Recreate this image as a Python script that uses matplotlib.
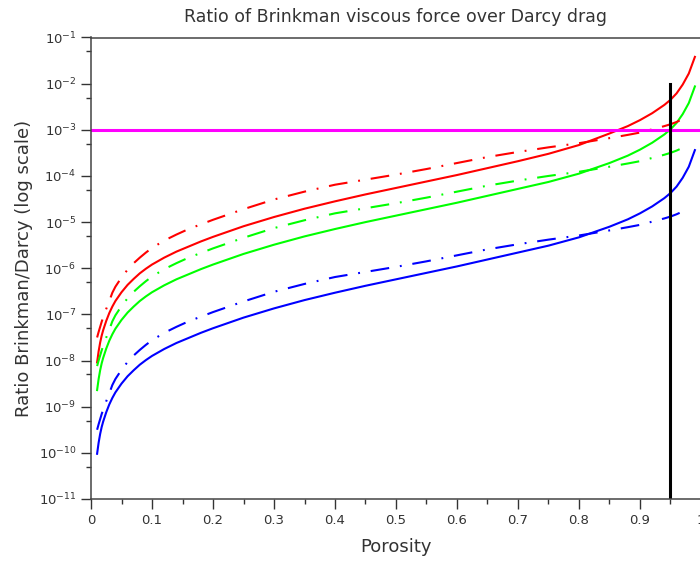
import numpy as np
import matplotlib
matplotlib.use('Agg')
import matplotlib.pyplot as plt
from matplotlib.ticker import LogLocator, MultipleLocator, FormatStrFormatter

# porosity grids (solid curves run to 0.99, dash-dot curves to 0.98)
phi_solid = [0.01, 0.0125, 0.015, 0.0175, 0.02, 0.025, 0.03, 0.035, 0.04,
             0.05, 0.06, 0.07, 0.08, 0.09, 0.1, 0.12, 0.14, 0.16, 0.18, 0.2,
             0.25, 0.3, 0.35, 0.4, 0.45, 0.5, 0.55, 0.6, 0.65, 0.7, 0.75, 0.8,
             0.85, 0.88, 0.9, 0.92, 0.94, 0.95, 0.96, 0.97, 0.98, 0.99]
phi_dash = phi_solid[:-1]

# log10 of the ratio
red_solid = [-8.04, -7.80, -7.61, -7.46, -7.34, -7.14, -6.97, -6.83, -6.71,
             -6.52, -6.36, -6.23, -6.11, -6.01, -5.92, -5.77, -5.64, -5.53, -5.42, -5.32,
             -5.09, -4.89, -4.71, -4.55, -4.40, -4.26, -4.12, -3.98, -3.83, -3.68, -3.52, -3.33,
             -3.08, -2.92, -2.79, -2.64, -2.46, -2.35, -2.21, -2.02, -1.78, -1.42]
green_solid = [-8.64, -8.40, -8.21, -8.06, -7.94, -7.74, -7.57, -7.43, -7.31,
               -7.12, -6.96, -6.83, -6.71, -6.61, -6.52, -6.37, -6.24, -6.13, -6.02, -5.92,
               -5.69, -5.49, -5.31, -5.15, -5.00, -4.86, -4.72, -4.58, -4.43, -4.28, -4.13, -3.95,
               -3.72, -3.56, -3.43, -3.28, -3.10, -2.99, -2.85, -2.66, -2.42, -2.06]
blue_solid = [-10.02, -9.78, -9.59, -9.44, -9.32, -9.12, -8.95, -8.81, -8.69,
              -8.50, -8.34, -8.21, -8.09, -7.99, -7.90, -7.75, -7.62, -7.51, -7.40, -7.30,
              -7.07, -6.87, -6.69, -6.53, -6.38, -6.24, -6.10, -5.96, -5.81, -5.66, -5.51, -5.33,
              -5.10, -4.94, -4.81, -4.66, -4.48, -4.37, -4.23, -4.04, -3.80, -3.44]

red_dash = [-7.50, -7.38, -7.27, -7.16, -7.06, -6.88, -6.71, -6.53, -6.40,
            -6.20, -6.03, -5.89, -5.77, -5.66, -5.56, -5.40, -5.27, -5.15, -5.05, -4.95,
            -4.72, -4.51, -4.34, -4.19, -4.08, -3.97, -3.85, -3.72, -3.59, -3.48, -3.38, -3.29,
            -3.18, -3.11, -3.06, -2.99, -2.92, -2.88, -2.83, -2.77, -2.71]
green_dash = [-8.12, -8.00, -7.89, -7.78, -7.68, -7.50, -7.33, -7.15, -7.02,
              -6.82, -6.65, -6.51, -6.39, -6.28, -6.18, -6.02, -5.89, -5.77, -5.67, -5.57,
              -5.34, -5.13, -4.96, -4.81, -4.70, -4.59, -4.47, -4.34, -4.21, -4.10, -4.00, -3.91,
              -3.80, -3.73, -3.68, -3.61, -3.54, -3.50, -3.45, -3.39, -3.33]
blue_dash = [-9.50, -9.38, -9.27, -9.16, -9.06, -8.88, -8.71, -8.53, -8.40,
             -8.20, -8.03, -7.89, -7.77, -7.66, -7.56, -7.40, -7.27, -7.15, -7.05, -6.95,
             -6.72, -6.51, -6.34, -6.19, -6.08, -5.97, -5.85, -5.72, -5.59, -5.48, -5.38, -5.29,
             -5.18, -5.11, -5.06, -4.99, -4.92, -4.88, -4.83, -4.77, -4.71]

threshold = 1e-3
phi_cut = 0.95
cut_top = 1e-2

plt.rcParams['font.family'] = 'DejaVu Sans'
txt = '#333333'

fig = plt.figure(figsize=(7.0, 5.63), dpi=100)
ax = fig.add_axes([91/700, 64/563, 610/700, 461.5/563])

dd = (0, (9.0, 5.2, 0.9, 5.2))
for vals, c in [(red_solid, '#ff0000'), (green_solid, '#00ff00'), (blue_solid, '#0000ff')]:
    ax.plot(phi_solid, 10.0 ** np.array(vals), color=c, lw=1.5)
for vals, c in [(red_dash, '#ff0000'), (green_dash, '#00ff00'), (blue_dash, '#0000ff')]:
    ax.plot(phi_dash, 10.0 ** np.array(vals), color=c, lw=1.5, linestyle=dd)

ax.axhline(threshold, color='#ff00ff', lw=2.2)
ax.plot([phi_cut, phi_cut], [1e-11, cut_top], color='black', lw=2.2)

ax.set_yscale('log')
ax.set_xlim(0, 1)
ax.set_ylim(1e-11, 1e-1)
ax.yaxis.set_major_locator(LogLocator(base=10, numticks=20))
ax.yaxis.set_minor_locator(LogLocator(base=10, subs=[5.0], numticks=20))
ax.xaxis.set_major_locator(MultipleLocator(0.1))
ax.xaxis.set_minor_locator(MultipleLocator(0.05))
ax.xaxis.set_major_formatter(FormatStrFormatter('%g'))

ax.tick_params(which='major', length=7, width=1, color=txt, labelcolor=txt, labelsize=9.5)
ax.tick_params(which='minor', length=3.5, width=1, color=txt)
for s in ax.spines.values():
    s.set_color('#444444')
    s.set_linewidth(1.1)

ax.set_title('Ratio of Brinkman viscous force over Darcy drag', fontsize=12.5, color=txt, pad=11)
ax.set_xlabel('Porosity', fontsize=13, color=txt, labelpad=8)
ax.set_ylabel('Ratio Brinkman/Darcy (log scale)', fontsize=13, color=txt, labelpad=4)

fig.savefig('out.png', dpi=100)
